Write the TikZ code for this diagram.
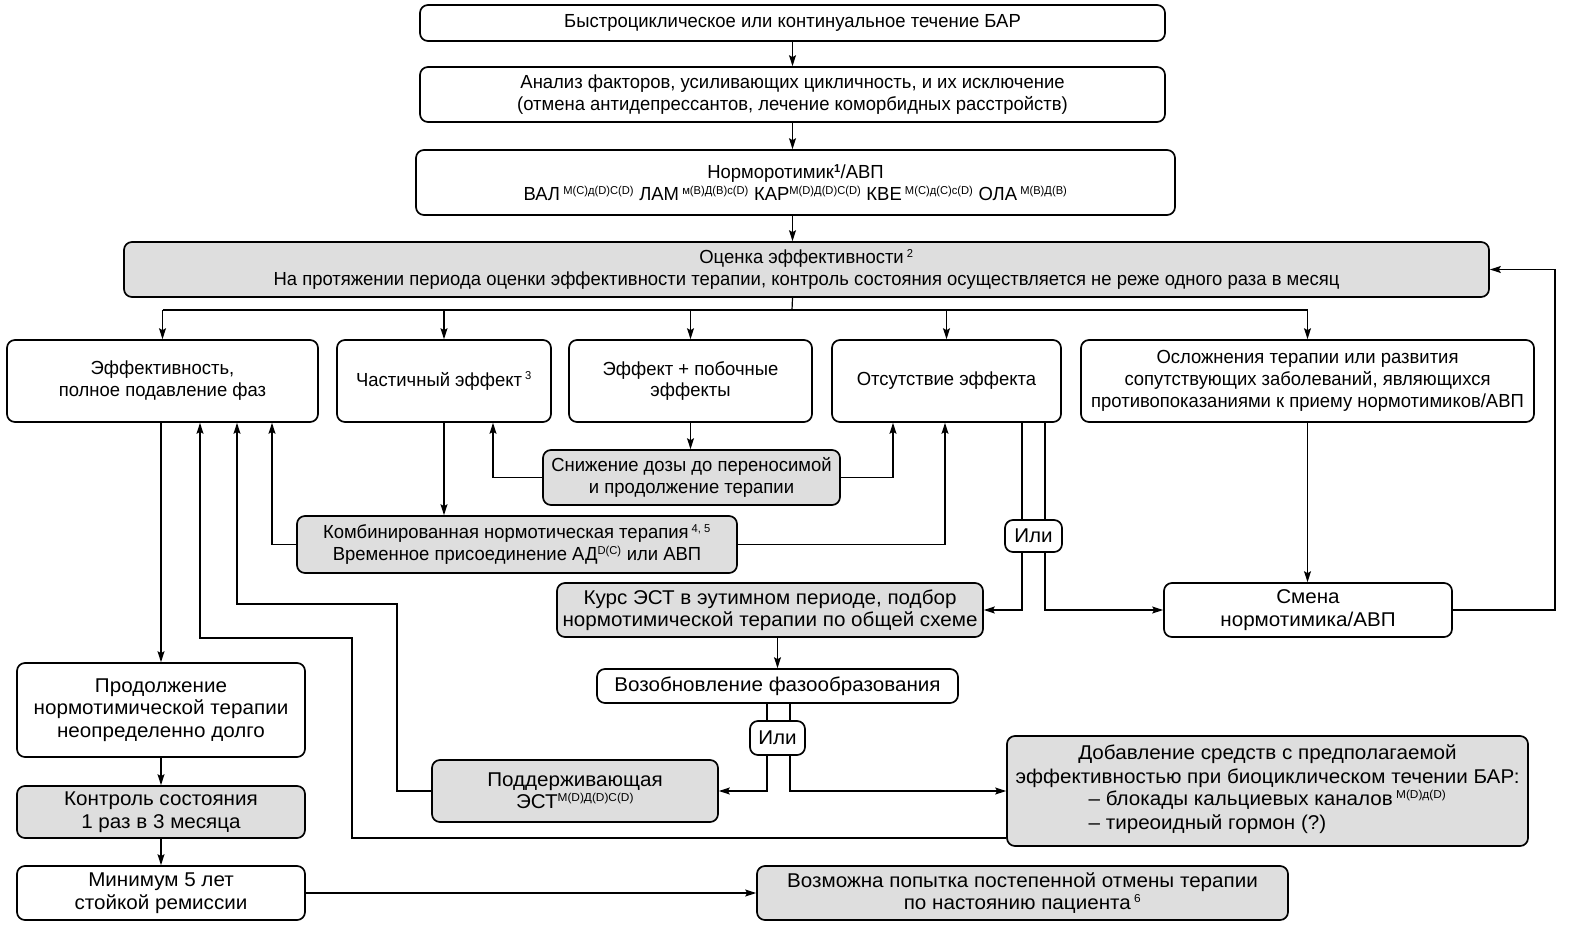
\documentclass[tikz,border=0pt]{standalone}
\usepackage{fontspec}
\setmainfont{Liberation Sans}[FakeStretch=0.975]
\newfontfamily\flower{Liberation Sans}[FakeStretch=1.035]
\usetikzlibrary{arrows.meta}
\definecolor{boxgray}{RGB}{222,222,222}
\newcommand{\up}[1]{\textsuperscript{\fontsize{11.5}{12}\selectfont #1}}
\begin{document}
\begin{tikzpicture}[x=1bp,y=-1bp,
  base/.style={draw=black, line width=1.7pt, rounded corners=8pt, align=center, inner sep=2pt,
    font=\fontsize{19}{22}\selectfont},
  wbox/.style={base, fill=white},
  gbox/.style={base, fill=boxgray},
  big/.style={font=\flower\fontsize{20}{22.5}\selectfont},
  arr/.style={line width=1.2pt, -{Stealth[length=11pt,width=7pt,inset=2pt]}},
  ln/.style={line width=1.2pt}]
\useasboundingbox (0,0) rectangle (1575,944);
% coordinates for bends
\coordinate (split) at (792,310);
\coordinate (bx) at (493,0);
\coordinate (dx1) at (893,0);
\coordinate (ax3) at (272,0);
\coordinate (dx2) at (945,0);
\coordinate (L1) at (1022,0);
\coordinate (L2) at (1045,0);
\coordinate (L3) at (767,0);
\coordinate (L4) at (790,0);
\coordinate (R) at (1555,0);
\coordinate (P1) at (397,604);
\coordinate (P2) at (237,0);
\coordinate (Q1) at (0,838);
\coordinate (Q2) at (352,638);
\coordinate (Q3) at (200,0);

% nodes
\node[wbox, minimum width=745bp, minimum height=36bp] (n1) at (792.5,23) {Быстроциклическое или континуальное течение БАР};
\node[wbox, minimum width=745bp, minimum height=55bp] (n2) at (792.5,94.5) {Анализ факторов, усиливающих цикличность, и их исключение\\(отмена антидепрессантов, лечение коморбидных расстройств)};
\node[wbox, minimum width=759bp, minimum height=65bp] (n3) at (795.5,182.5) {Норморотимик\up{\textbf{1}}/АВП\\ВАЛ\,\up{М(С)д(D)С(D)} ЛАМ\,\up{м(В)Д(В)с(D)} КАР\up{М(D)Д(D)С(D)} КВЕ\,\up{М(С)д(С)с(D)} ОЛА\,\up{М(В)Д(В)}};
\node[gbox, minimum width=1365bp, minimum height=55bp] (n4) at (806.5,269.5) {Оценка эффективности\,\up{2}\\На протяжении периода оценки эффективности терапии, контроль состояния осуществляется не реже одного раза в месяц};

\node[wbox, minimum width=311bp, minimum height=82bp] (a) at (162.5,381) {Эффективность,\\полное подавление фаз};
\node[wbox, minimum width=214bp, minimum height=82bp] (b) at (444,381) {Частичный эффект\,\up{3}};
\node[wbox, minimum width=243bp, minimum height=82bp] (c) at (690.5,381) {Эффект + побочные\\эффекты};
\node[wbox, minimum width=229bp, minimum height=82bp] (d) at (946.5,381) {Отсутствие эффекта};
\node[wbox, minimum width=453bp, minimum height=82bp, inner sep=1pt] (e) at (1307.5,381) {Осложнения терапии или развития\\сопутствующих заболеваний, являющихся\\противопоказаниями к приему нормотимиков/АВП};

\node[gbox, minimum width=297bp, minimum height=55bp] (snizh) at (691.5,477.5) {Снижение дозы до переносимой\\и продолжение терапии};
\node[gbox, minimum width=440bp, minimum height=57bp] (komb) at (517,544.5) {Комбинированная нормотическая терапия\,\up{4, 5}\\Временное присоединение АД\up{D(C)} или АВП};
\node[gbox, big, minimum width=426bp, minimum height=54bp, inner sep=1pt] (kurs) at (770,610) {Курс ЭСТ в эутимном периоде, подбор\\нормотимической терапии по общей схеме};
\node[wbox, big, minimum width=288bp, minimum height=54bp] (smena) at (1308,610) {Смена\\нормотимика/АВП};
\node[wbox, big, minimum width=361bp, minimum height=34bp] (vozob) at (777.5,686) {Возобновление фазообразования};
\node[gbox, big, minimum width=286bp, minimum height=62bp] (podd) at (575,791) {Поддерживающая\\ЭСТ\up{М(D)Д(D)С(D)}};
\node[gbox, minimum width=521bp, minimum height=110bp, inner sep=1pt, font=\flower\fontsize{20}{24}\selectfont] (dobav) at (1267.5,791) {Добавление средств с предполагаемой\\эффективностью при биоциклическом течении БАР:\\\begin{tabular}{@{}l@{}}– блокады кальциевых каналов\,\up{М(D)д(D)}\\– тиреоидный гормон (?)\end{tabular}};
\node[wbox, big, minimum width=288bp, minimum height=94bp] (prod) at (161,710) {Продолжение\\нормотимической терапии\\неопределенно долго};
\node[gbox, big, minimum width=288bp, minimum height=52bp] (kontr) at (161,812) {Контроль состояния\\1 раз в 3 месяца};
\node[wbox, big, minimum width=288bp, minimum height=54bp] (minim) at (161,893) {Минимум 5 лет\\стойкой ремиссии};
\node[gbox, big, minimum width=531bp, minimum height=54bp] (vozm) at (1022.5,893) {Возможна попытка постепенной отмены терапии\\по настоянию пациента\,\up{6}};

% connectors
\draw[arr] (n1.south) -- (n1.south |- n2.north);
\draw[arr] (n2.south) -- (n2.south |- n3.north);
\draw[arr] (n2.south |- n3.south) -- (n2.south |- n4.north);
\draw[ln] (n2.south |- n4.south) -- (split);
\draw[ln] (a.north |- split) -- (e.north |- split);
\foreach \t in {a,b,c,d,e} \draw[arr] (\t.north |- split) -- (\t.north);

\draw[arr] (prod.north |- a.south) -- (prod.north);
\draw[arr] (prod.south) -- (kontr.north);
\draw[arr] (kontr.south) -- (minim.north);
\draw[arr] (minim.east) -- (vozm.west);

\draw[arr] (b.south) -- (b.south |- komb.north);
\draw[arr] (c.south) -- (c.south |- snizh.north);
\draw[arr] (snizh.west) -| (b.south -| bx);
\draw[arr] (snizh.east) -| (d.south -| dx1);
\draw[arr] (komb.west) -| (a.south -| ax3);
\draw[arr] (komb.east) -| (d.south -| dx2);

\draw[arr] (d.south -| L1) |- (kurs.east);
\draw[arr] (d.south -| L2) |- (smena.west);
\draw[arr] (e.south) -- (e.south |- smena.north);
\draw[arr] (smena.east) -- (smena.east -| R) -- (R |- n4.east) -- (n4.east);

\draw[arr] (vozob.north |- kurs.south) -- (vozob.north);
\draw[arr] (vozob.south -| L3) |- (podd.east);
\draw[arr] (vozob.south -| L4) |- (dobav.west);

\draw[arr] (podd.west) -| (P1) -| (a.south -| P2);
\draw[arr] (dobav.west |- Q1) -| (Q2) -| (a.south -| Q3);

% "Или" nodes drawn over the lines
\node[wbox, big, minimum width=57bp, minimum height=32bp, inner sep=1pt] (ili1) at (1033.5,536) {Или};
\node[wbox, big, minimum width=55bp, minimum height=34bp, inner sep=1pt] (ili2) at (777.5,738) {Или};
\end{tikzpicture}
\end{document}
